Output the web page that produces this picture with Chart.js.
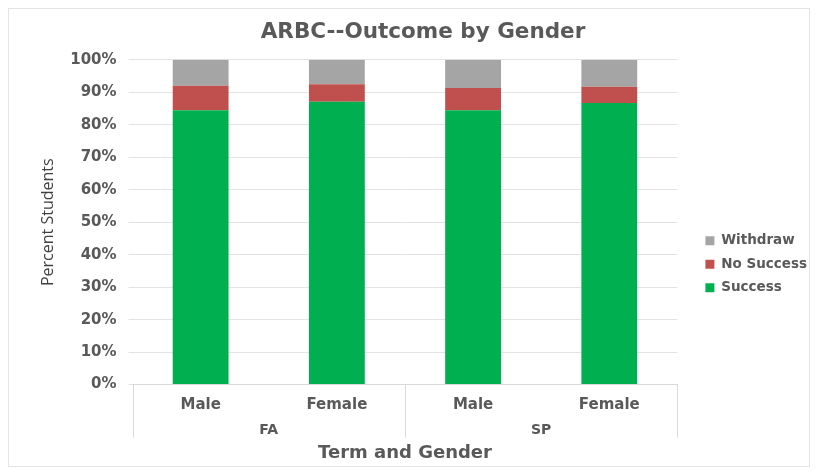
<!DOCTYPE html>
<html>
<head>
<meta charset="utf-8">
<script src="https://cdn.jsdelivr.net/npm/chart.js@4/dist/chart.umd.min.js"></script>
<style>
  html, body { margin: 0; padding: 0; background: #fff; }
  #wrap { position: relative; width: 817px; height: 474px; }
  #frame { position: absolute; left: 8px; top: 8px; width: 802px; height: 459px; border: 1px solid #e4e4e4; box-sizing: border-box; }
  #outcome { position: absolute; left: 0; top: 0; }
</style>
</head>
<body>
<div id="wrap">
  <div id="frame"></div>
  <canvas id="outcome" width="817" height="474"></canvas>
</div>
<script>
var genders = ["Male", "Female", "Male", "Female"];
var terms = ["FA", "SP"];
var success = [84.5, 87.1, 84.5, 86.7];
var noSuccess = [7.5, 5.4, 6.8, 5.0];
var withdraw = [8.0, 7.5, 8.7, 8.3];
var yTicks = [0, 10, 20, 30, 40, 50, 60, 70, 80, 90, 100];

var grey = '#595959';
var face = "'DejaVu Sans', sans-serif";

// vertical lines that split the axis into the FA / SP groups
var groupLines = {
    id: 'groupLines',
    afterDraw: function(chart) {
        var x = chart.scales.x, x2 = chart.scales.x2;
        var per = genders.length / terms.length;
        var step = (x.right - x.left) / genders.length;
        var ctx = chart.ctx;
        ctx.save();
        ctx.strokeStyle = '#d9d9d9';
        ctx.lineWidth = 1;
        for (var i = 0; i <= terms.length; i++) {
            var idx = Math.min(i * per, genders.length - 1);
            var px = x.getPixelForValue(idx) + (i * per < genders.length ? -step / 2 : step / 2);
            px = Math.round(px) + 0.5;
            ctx.beginPath();
            ctx.moveTo(px, chart.chartArea.bottom);
            ctx.lineTo(px, x2.top + 19);
            ctx.stroke();
        }
        ctx.restore();
    }
};

var ctx = document.getElementById('outcome');
var chart = new Chart(ctx, {
    type: 'bar',
    data: {
        labels: genders,
        datasets: [
            { label: 'Success', data: success, backgroundColor: '#00b050' },
            { label: 'No Success', data: noSuccess, backgroundColor: '#c0504d' },
            { label: 'Withdraw', data: withdraw, backgroundColor: '#a5a5a5' }
        ]
    },
    options: {
        responsive: false,
        animation: false,
        layout: { padding: { left: 29, right: 0, top: 10, bottom: 6 } },
        datasets: { bar: { categoryPercentage: 1, barPercentage: 0.41 } },
        plugins: {
            title: {
                display: true,
                text: 'ARBC--Outcome by Gender',
                color: grey,
                font: { family: face, size: 21.5, weight: 'bold' },
                padding: { top: 10, bottom: 14 }
            },
            legend: {
                position: 'right',
                reverse: true,
                // blank legend title pushes the entries lower down
                title: { display: true, text: ' ', font: { size: 12 }, padding: { top: 0, bottom: 36 } },
                labels: {
                    boxWidth: 9, boxHeight: 9, padding: 10,
                    color: grey,
                    font: { family: face, size: 13.5, weight: 'bold' }
                }
            },
            tooltip: { enabled: false }
        },
        scales: {
            x: {
                stacked: true,
                grid: { display: false },
                border: { display: true, color: '#d9d9d9' },
                ticks: { color: grey, padding: 4, font: { family: face, size: 15, weight: 'bold' } }
            },
            x2: {
                type: 'category',
                labels: terms,
                offset: true,
                position: 'bottom',
                grid: { display: false },
                border: { display: false },
                ticks: { color: grey, padding: -5, font: { family: face, size: 14, weight: 'bold' } },
                title: {
                    display: true, text: 'Term and Gender', color: grey, padding: { top: 9 },
                    font: { family: face, size: 18, weight: 'bold' }
                }
            },
            y: {
                stacked: true,
                min: 0, max: 100,
                afterBuildTicks: function(axis) { axis.ticks = yTicks.map(function(v) { return { value: v }; }); },
                grid: { color: '#e3e3e3', tickLength: 4, tickColor: '#e3e3e3' },
                border: { display: false },
                ticks: {
                    color: grey, padding: 12,
                    font: { family: face, size: 15, weight: 'bold' },
                    callback: function(v) { return v + '%'; }
                },
                title: {
                    display: true, text: 'Percent Students', color: '#404040',
                    padding: { top: 10, bottom: 0 },
                    font: { family: "'Open Sans', sans-serif", size: 16 }
                }
            },
            // empty right-hand spacer between the plot and the legend
            gap: {
                type: 'linear',
                position: 'right',
                grid: { display: false },
                border: { display: false },
                ticks: { display: false },
                afterFit: function(s) { s.width = 18; }
            }
        }
    },
    plugins: [groupLines]
});
</script>
</body>
</html>
